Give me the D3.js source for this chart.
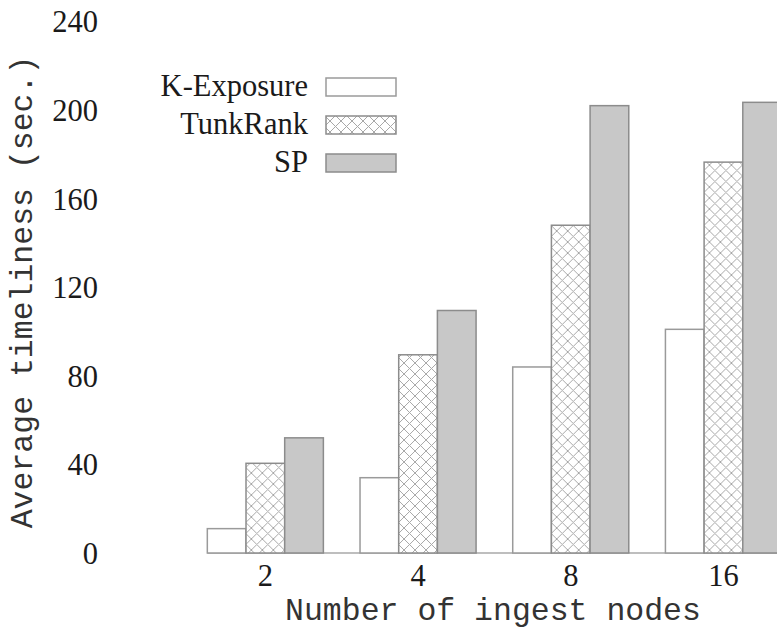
<!DOCTYPE html>
<html>
<head>
<meta charset="utf-8">
<script src="https://cdn.jsdelivr.net/npm/d3@7"></script>
<style>
  html, body { margin: 0; padding: 0; background: #fff; overflow: hidden; }
  svg { display: block; }
</style>
</head>
<body>
<svg id="chart" width="777" height="631"></svg>
<script>
const categories = ["2", "4", "8", "16"];
const seriesNames = ["K-Exposure", "TunkRank", "SP"];
const kExposure = [11, 34, 84, 101];
const tunkRank = [40.5, 89.5, 148, 176.5];
const sp = [52, 109.5, 202, 203.5];
const yTicks = [0, 40, 80, 120, 160, 200, 240];
const xTitle = "Number of ingest nodes";
const yTitle = "Average timeliness (sec.)";

const seriesValues = [kExposure, tunkRank, sp];

const svg = d3.select("#chart");
const W = 777, H = 631;

const P = 11;
const defs = svg.append("defs");
const pat = defs.append("pattern")
  .attr("id", "xhatch")
  .attr("patternUnits", "userSpaceOnUse")
  .attr("width", P).attr("height", P);
pat.append("rect").attr("width", P).attr("height", P).attr("fill", "#fff");
pat.append("path")
  .attr("d", `M0,0L${P},${P}M-1,${P-1}L1,${P+1}M${P-1},-1L${P+1},1M0,${P}L${P},0M-1,1L1,-1M${P-1},${P+1}L${P+1},${P-1}`)
  .attr("stroke", "#a8a8a8").attr("stroke-width", 1).attr("fill", "none");

const fills = ["#ffffff", "url(#xhatch)", "#c8c8c8"];
const strokes = ["#9a9a9a", "#8c8c8c", "#8c8c8c"];

const y = d3.scaleLinear().domain([0, 240]).range([553, 21.5]);
const x = d3.scaleBand().domain(categories)
  .range([189, 799.8]).paddingInner(0.24).paddingOuter(0.12);
const xs = d3.scaleBand().domain(seriesNames).range([0, x.bandwidth()]);

const serif = "'Liberation Serif', 'Times New Roman', serif";
const mono = "'Liberation Mono', 'Courier New', monospace";

// Y axis (labels only)
const yAxis = d3.axisLeft(y).tickValues(yTicks).tickSize(0).tickPadding(0);
const gy = svg.append("g").attr("transform", "translate(98,0)").call(yAxis);
gy.select(".domain").remove();
gy.selectAll("text")
  .attr("font-family", serif).attr("font-size", 30.5).attr("fill", "#1a1a1a")
  .attr("x", 0).attr("dy", "0.34em");

// X axis (labels only)
const xAxis = d3.axisBottom(x).tickSize(0).tickPadding(0);
const gx = svg.append("g").attr("transform", "translate(0,553)").call(xAxis);
gx.select(".domain").remove();
gx.selectAll("text")
  .attr("font-family", serif).attr("font-size", 30.5).attr("fill", "#1a1a1a")
  .attr("y", 33).attr("dy", 0);

// baseline
svg.append("line")
  .attr("x1", x(categories[0])).attr("x2", W + 10)
  .attr("y1", y(0)).attr("y2", y(0))
  .attr("stroke", "#a8a8a8").attr("stroke-width", 1.5);

// bars
const groups = svg.append("g").selectAll("g")
  .data(categories).join("g")
  .attr("transform", d => `translate(${x(d)},0)`);

groups.selectAll("rect")
  .data((c, i) => seriesNames.map((s, j) => ({ s, j, v: seriesValues[j][i] })))
  .join("rect")
  .attr("x", d => xs(d.s))
  .attr("y", d => y(d.v))
  .attr("width", xs.bandwidth())
  .attr("height", d => y(0) - y(d.v))
  .attr("fill", d => fills[d.j])
  .attr("stroke", d => strokes[d.j])
  .attr("stroke-width", 1.5);

// legend
const leg = svg.append("g");
seriesNames.forEach((s, j) => {
  const cy = 87 + j * 38;
  leg.append("text")
    .attr("x", 308).attr("y", cy + 9)
    .attr("text-anchor", "end")
    .attr("font-family", serif).attr("font-size", 30.5).attr("fill", "#1a1a1a")
    .text(s);
  leg.append("rect")
    .attr("x", 326).attr("y", cy - 9)
    .attr("width", 70).attr("height", 18)
    .attr("fill", fills[j]).attr("stroke", strokes[j]).attr("stroke-width", 1.5);
});

// axis titles
svg.append("text")
  .attr("x", 493).attr("y", 620)
  .attr("text-anchor", "middle")
  .attr("font-family", mono).attr("font-size", 31.5).attr("fill", "#333")
  .text(xTitle);

svg.append("text")
  .attr("transform", "translate(32,292) rotate(-90)")
  .attr("text-anchor", "middle")
  .attr("font-family", mono).attr("font-size", 31.5).attr("fill", "#333")
  .text(yTitle);
</script>
</body>
</html>
